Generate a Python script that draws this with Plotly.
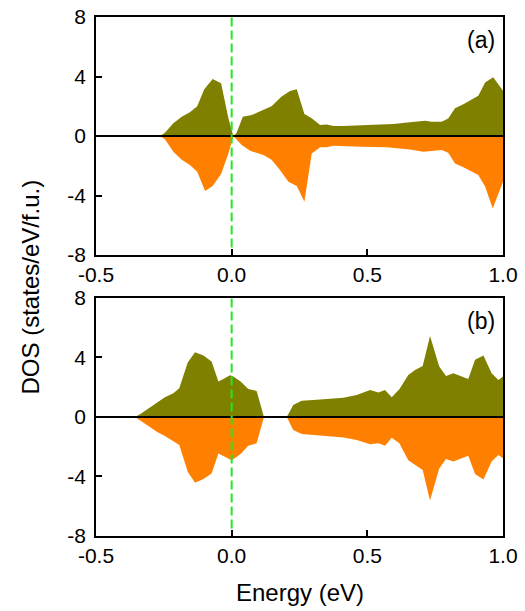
import plotly.graph_objects as go

# Panel (a)
a_up_E = [-0.50, -0.264, -0.246, -0.215, -0.184, -0.154, -0.127, -0.101, -0.070, -0.039, -0.012, 0.006,
          0.018, 0.041, 0.074, 0.117, 0.147, 0.184, 0.215, 0.240, 0.268, 0.295, 0.326, 0.350, 0.375,
          0.41, 0.473, 0.547, 0.596, 0.657, 0.713, 0.737, 0.774, 0.798, 0.823, 0.854, 0.909, 0.934,
          0.964, 1.0]
a_up = [0, 0, 0.22, 0.85, 1.3, 1.6, 2.0, 3.14, 3.83, 3.54, 1.19, 0,
        0.2, 1.3, 1.41, 1.75, 2.0, 2.65, 3.03, 3.14, 1.48, 1.19, 0.74, 0.78, 0.67,
        0.67, 0.72, 0.74, 0.81, 0.92, 1.03, 0.96, 0.96, 1.17, 1.86, 2.13, 2.71, 3.59,
        3.95, 3.05]

a_dn_E = [-0.50, -0.264, -0.246, -0.215, -0.184, -0.154, -0.127, -0.098, -0.070, -0.039, -0.012, 0.006,
          0.037, 0.068, 0.117, 0.147, 0.178, 0.209, 0.240, 0.268, 0.295, 0.326, 0.350, 0.375,
          0.473, 0.571, 0.657, 0.706, 0.737, 0.774, 0.798, 0.823, 0.854, 0.909, 0.934, 0.962, 1.0]
a_dn = [0, 0, -0.22, -1.05, -1.6, -1.95, -2.4, -3.7, -3.36, -2.55, -1.17, 0,
        -0.6, -0.99, -1.28, -1.6, -2.29, -3.07, -3.36, -4.42, -1.17, -0.76, -0.76, -0.65,
        -0.72, -0.76, -0.9, -1.05, -1.0, -0.94, -1.12, -1.84, -2.1, -2.62, -3.4, -4.87, -3.07]

# Panel (b)
b_up_E = [-0.50, -0.356, -0.332, -0.307, -0.276, -0.246, -0.215, -0.193, -0.162, -0.135, -0.104, -0.074,
          -0.049, -0.031, -0.006, 0.006, 0.033, 0.061, 0.092, 0.119, 0.203, 0.227, 0.258, 0.301,
          0.350, 0.412, 0.461, 0.510, 0.541, 0.565, 0.590, 0.618, 0.651, 0.676, 0.704, 0.731,
          0.765, 0.790, 0.817, 0.842, 0.872, 0.897, 0.928, 0.958, 0.983, 1.0]
b_up = [0, 0, 0.25, 0.58, 0.96, 1.32, 1.59, 1.93, 3.66, 4.35, 4.13, 3.73,
        2.38, 2.56, 2.81, 2.72, 2.38, 1.89, 1.75, 0, 0, 0.81, 1.1, 1.14,
        1.19, 1.3, 1.48, 1.82, 1.64, 1.82, 1.32, 1.86, 2.83, 3.16, 3.43, 5.45,
        3.39, 2.76, 2.94, 2.76, 2.56, 3.84, 4.13, 2.94, 2.49, 2.72]

b_dn_E = [-0.50, -0.356, -0.307, -0.276, -0.246, -0.193, -0.162, -0.135, -0.104, -0.074,
          -0.049, -0.031, 0.0, 0.033, 0.061, 0.092, 0.119, 0.203, 0.227, 0.258,
          0.350, 0.412, 0.461, 0.510, 0.541, 0.565, 0.590, 0.618, 0.651, 0.704, 0.731,
          0.765, 0.790, 0.817, 0.872, 0.897, 0.928, 0.958, 0.983, 1.0]
b_dn = [0, 0, -0.6, -0.99, -1.28, -1.89, -3.68, -4.42, -4.17, -3.79,
        -2.45, -2.6, -2.9, -2.49, -1.93, -1.77, 0, 0, -0.88, -1.14,
        -1.26, -1.37, -1.55, -1.84, -1.77, -1.93, -1.39, -1.77, -2.9, -3.57, -5.61,
        -3.46, -2.83, -3.0, -2.6, -3.84, -4.2, -3.0, -2.56, -2.78]

x_ticks = [-0.5, 0.0, 0.5, 1.0]
x_ticklabels = ["-0.5", "0.0", "0.5", "1.0"]
y_ticks = [-8, -4, 0, 4, 8]
y_ticklabels = ["-8", "-4", "0", "4", "8"]
panel_labels = ["(a)", "(b)"]

OLIVE = "#808000"
ORANGE = "#FF8000"
GREEN = "#22E822"
FONT = "Liberation Sans, Arial, sans-serif"

fig = go.Figure()

def add_fill(x, y, color, xa, ya):
    fig.add_trace(go.Scatter(x=x, y=y, mode="lines", line=dict(width=0, color=color),
                             fill="tozeroy", fillcolor=color, xaxis=xa, yaxis=ya,
                             showlegend=False, hoverinfo="skip"))

add_fill(a_up_E, a_up, OLIVE, "x", "y")
add_fill(a_dn_E, a_dn, ORANGE, "x", "y")
add_fill(b_up_E, b_up, OLIVE, "x2", "y2")
add_fill(b_dn_E, b_dn, ORANGE, "x2", "y2")

axis_common = dict(range=[-0.5, 1.0], tickvals=x_ticks, ticktext=x_ticklabels,
                   ticks="inside", ticklen=6, tickwidth=1.5, tickcolor="black",
                   showline=True, linecolor="black", linewidth=1.5, mirror=True,
                   showgrid=False, zeroline=False, automargin=False,
                   tickfont=dict(family=FONT, size=21, color="black"))
yaxis_common = dict(range=[-8, 8], tickvals=y_ticks, ticktext=y_ticklabels,
                    ticks="inside", ticklen=6, tickwidth=1.5, tickcolor="black",
                    showline=True, linecolor="black", linewidth=1.5, mirror=True,
                    showgrid=False, zeroline=False, automargin=False,
                    ticklabelstandoff=4,
                    tickfont=dict(family=FONT, size=21, color="black"))

fig.update_layout(
    template="none",
    width=525, height=611,
    margin=dict(l=96, r=22, t=17, b=75),
    paper_bgcolor="white", plot_bgcolor="white",
    xaxis=dict(axis_common, domain=[0, 1], anchor="y"),
    yaxis=dict(yaxis_common, domain=[0.5414, 1.0], anchor="x"),
    xaxis2=dict(axis_common, domain=[0, 1], anchor="y2"),
    yaxis2=dict(yaxis_common, domain=[0.0, 0.4586], anchor="x2"),
)

shapes = []
for xr, yr in [("x", "y"), ("x2", "y2")]:
    shapes.append(dict(type="line", xref=xr + " domain", yref=yr, x0=0, x1=1, y0=0, y1=0,
                       line=dict(color="black", width=2), layer="above"))
    shapes.append(dict(type="line", xref=xr, yref=yr, x0=0, x1=0, y0=-7.5, y1=8,
                       line=dict(color=GREEN, width=2, dash="9px,4px"), layer="above"))
fig.update_layout(shapes=shapes)

annotations = []
for lbl, xr, yr in zip(panel_labels, ["x", "x2"], ["y", "y2"]):
    annotations.append(dict(text=lbl, xref=xr + " domain", yref=yr + " domain", x=0.985, y=0.965,
                            xanchor="right", yanchor="top", showarrow=False,
                            font=dict(family=FONT, size=23, color="black")))
annotations.append(dict(text="DOS (states/eV/f.u.)", xref="paper", yref="paper",
                        x=-0.162, y=0.479, xanchor="center", yanchor="middle", textangle=-90,
                        showarrow=False, font=dict(family=FONT, size=24, color="black")))
annotations.append(dict(text="Energy (eV)", xref="paper", yref="paper",
                        x=0.501, y=-0.108, xanchor="center", yanchor="middle",
                        showarrow=False, font=dict(family=FONT, size=24, color="black")))
fig.update_layout(annotations=annotations)

fig.write_html("out.html", config={"displayModeBar": False},
               post_script="document.body.style.margin='0';document.body.style.overflow='hidden';")
